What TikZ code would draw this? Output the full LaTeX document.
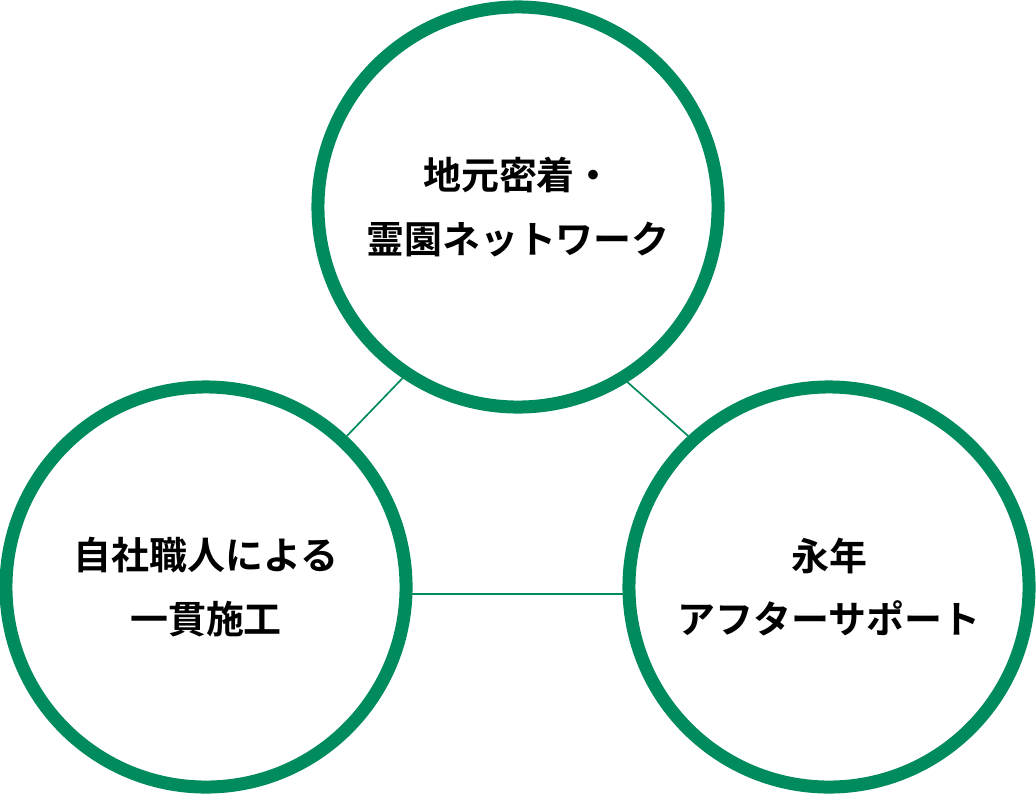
\documentclass[tikz,border=0pt]{standalone}
\usepackage{fontspec}
\newfontfamily\cjk{Noto Sans CJK JP}[BoldFont={Noto Sans CJK JP Bold}]
\definecolor{grn}{HTML}{008B5F}
\begin{document}
\begin{tikzpicture}[x=0.025cm,y=-0.025cm,
  ring/.style={circle,draw=grn,line width=0.325cm,fill=white,minimum size=10cm,inner sep=0pt,
    align=center,font=\cjk\bfseries\fontsize{27pt}{45pt}\selectfont},
  link/.style={grn,line width=1.2pt}]
\useasboundingbox[fill=white] (0,0) rectangle (1036,794);
\node[ring] (T) at (518,207) {地元密着・\\霊園ネットワーク};
\node[ring] (L) at (206,587) {自社職人による\\一貫施工};
\node[ring] (R) at (829,587) {永年\\アフターサポート};
\begin{scope}[on background layer/.try]
\end{scope}
\draw[link] (T.236) -- (L.47);
\draw[link] (T.302) -- (R.133);
\draw[link] (L.-2) -- (R.182);
\end{tikzpicture}
\end{document}
